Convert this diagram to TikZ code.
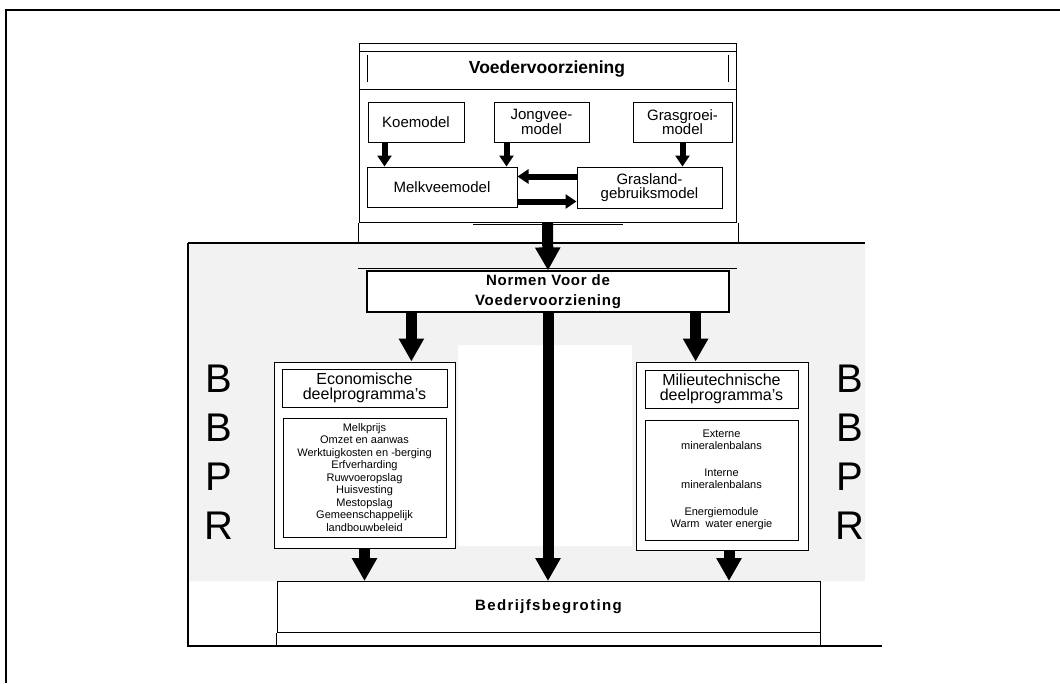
\documentclass[tikz,border=0pt]{standalone}
\usepackage{fontspec}
\setmainfont{Liberation Sans}
\newfontfamily\normenfont[LetterSpace=5]{Liberation Sans}
\newfontfamily\begrotingfont[LetterSpace=9]{Liberation Sans}
\usetikzlibrary{positioning}
\usetikzlibrary{arrows.meta}

\tikzset{
 modelbox/.style={draw,fill=white,line width=1pt,inner sep=0pt,align=center,font=\fontsize{15}{14.5}\selectfont},
 kopbox/.style={modelbox,font=\fontsize{16}{15.5}\selectfont},
 lijstbox/.style={modelbox,font=\fontsize{11}{12.5}\selectfont},
 thinarrow/.style={line width=6pt,-{Triangle[width=14pt,length=11pt]}},
 fatarrow/.style={line width=11pt,-{Triangle[width=24pt,length=23pt]}},
 bigletter/.style={font=\fontsize{40}{49}\selectfont,align=center,inner sep=0pt,anchor=north}
}

\begin{document}
\begin{tikzpicture}[x=1pt,y=-1pt]
 \useasboundingbox (0,0) rectangle (1060,683);
 \fill[black!5,even odd rule] (188,243) rectangle (865,581) (458,345) rectangle (632,546);
 \draw[line width=2pt] (6,683) -- (6,10) -- (1060,10);
 \draw[line width=1.5pt] (188,243) -- (865,243);
 \draw[line width=1.5pt] (188,243) -- (188,646) -- (882,646);

 \node[draw,line width=1pt,minimum width=377pt,minimum height=179pt] (voederbox) at (547.5,132.5) {};
 \draw (359,51) -- (736,51);
 \draw (359,89) -- (736,89);
 \draw[line width=1pt] (367,55) -- (367,82);
 \draw (728,55) -- (728,82);
 \node[font=\fontsize{17.5}{20}\selectfont\bfseries] (voeder) at (547,69) {Voedervoorziening};
 \draw (voederbox.south west) -- (voederbox.south west |- 0,243);
 \draw ([xshift=2pt]voederbox.south east) -- ([xshift=2pt]voederbox.south east |- 0,243);
 \draw (473,224) -- (623,224);

 \node[modelbox,minimum width=96pt,minimum height=40pt] (koe) at (416,122) {Koemodel};
 \node[modelbox,minimum width=95pt,minimum height=40pt] (jongvee) at (541.5,122) {Jongvee-\\model};
 \node[modelbox,minimum width=99pt,minimum height=40pt] (grasgroei) at (682.5,122) {Grasgroei-\\model};
 \node[modelbox,minimum width=150pt,minimum height=40pt] (melkvee) at (442,187) {Melkveemodel};
 \node[modelbox,minimum width=145pt,minimum height=41pt] (grasland) at (649.5,187.5) {Grasland-\\gebruiksmodel};

 \draw[thinarrow] ([xshift=17pt]koe.south west) -- ([xshift=17pt]koe.south west |- melkvee.north);
 \draw[thinarrow] ([xshift=13pt]jongvee.south west) -- ([xshift=13pt]jongvee.south west |- melkvee.north);
 \draw[thinarrow] (grasgroei.south) -- (grasgroei.south |- grasland.north);
 \draw[thinarrow] ([yshift=-10pt]grasland.north west) -- ([yshift=-10pt]grasland.north west -| melkvee.east);
 \draw[thinarrow] ([yshift=6pt]melkvee.south east) -- ([yshift=6pt]melkvee.south east -| grasland.west);

 \draw (358,268) -- (737,268);
 \node[modelbox,line width=1.2pt,minimum width=362pt,minimum height=41pt,font=\normenfont\bfseries\fontsize{15}{20}\selectfont] (normen) at (548,291.5) {Normen Voor de\\Voedervoorziening};

 \node[modelbox,minimum width=181pt,minimum height=186pt] (econ) at (364.5,455) {};
 \node[kopbox,minimum width=165pt,minimum height=38pt] (econkop) at (364.5,388) {Economische\\deelprogramma's};
 \node[lijstbox,minimum width=163pt,minimum height=119pt] (econlijst) at (364.5,477.5) {Melkprijs\\Omzet en aanwas\\Werktuigkosten en -berging\\Erfverharding\\Ruwvoeropslag\\Huisvesting\\Mestopslag\\Gemeenschappelijk\\landbouwbeleid};

 \node[modelbox,minimum width=172pt,minimum height=188pt] (milieu) at (722,456) {};
 \node[kopbox,minimum width=153pt,minimum height=38pt] (milieukop) at (721.5,389) {Milieutechnische\\deelprogramma's};
 \node[lijstbox,minimum width=153pt,minimum height=120pt] (milieulijst) at (721.5,480) {Externe\\mineralenbalans\\[14pt]Interne\\mineralenbalans\\[14pt]Energiemodule\\Warm\ \ water energie};

 \node[modelbox,minimum width=543pt,minimum height=51pt,font=\begrotingfont\bfseries\fontsize{15}{16}\selectfont] (bedrijf) at (548.5,607) {Bedrijfsbegroting};
 \draw (bedrijf.south west) -- (bedrijf.south west |- 0,646);
 \draw (bedrijf.south east) -- (bedrijf.south east |- 0,646);

 \draw[fatarrow] (voederbox.south) -- (normen.north);
 \draw[fatarrow] ([xshift=45pt]normen.south west) -- ([xshift=45pt]normen.south west |- econ.north);
 \draw[fatarrow] (normen.south) -- (normen.south |- bedrijf.north);
 \draw[fatarrow] ([xshift=-34pt]normen.south east) -- ([xshift=-34pt]normen.south east |- milieu.north);
 \draw[fatarrow] (econ.south) -- (econ.south |- bedrijf.north);
 \draw[fatarrow] ([xshift=7pt]milieu.south) -- ([xshift=7pt]milieu.south |- bedrijf.north);

 \node[bigletter] (bbprlinks) at (218.5,365) {B\\B\\P\\R};
 \node[bigletter] (bbprrechts) at (850,365) {B\\B\\P\\R};
\end{tikzpicture}
\end{document}
